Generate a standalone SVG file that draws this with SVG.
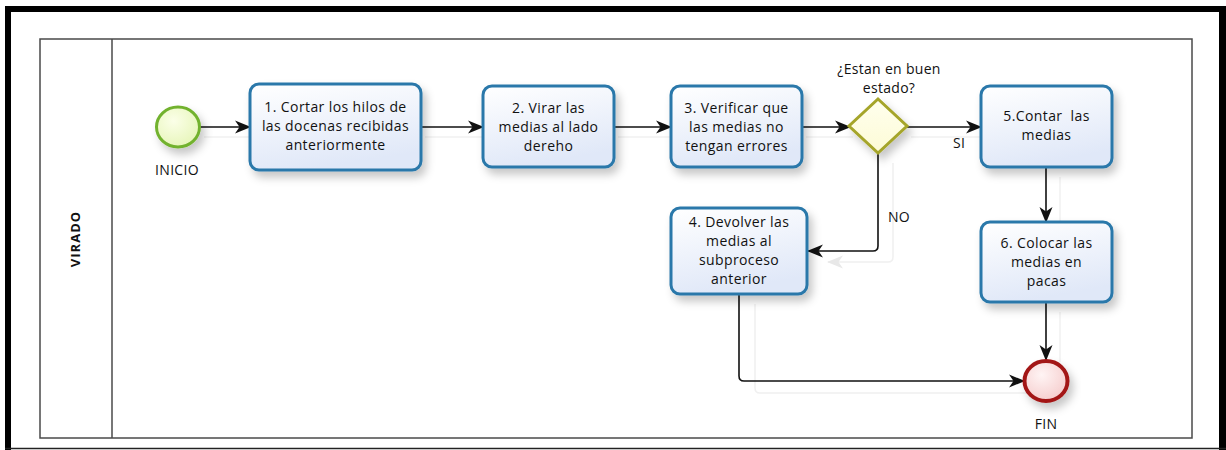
<svg xmlns="http://www.w3.org/2000/svg" width="1226" height="450" viewBox="0 0 1226 450">
  <defs>
    <style>
      .frame { fill: none; stroke: #000; }
      .pool { fill: none; stroke: #4a4a4a; stroke-width: 1.5; }
      .task { stroke: #2a78aa; stroke-width: 3; fill: url(#taskGrad); filter: url(#shadow); }
      .txt { font-family: "Open Sans", "Noto Sans", "DejaVu Sans", sans-serif; font-size: 14px; letter-spacing: 0.4px; fill: #111; text-anchor: middle; }
      .lbl { font-family: "Open Sans", "Noto Sans", "DejaVu Sans", sans-serif; font-size: 14px; letter-spacing: 0.3px; fill: #111; text-anchor: middle; }
      .lane { font-family: "Open Sans", "Noto Sans", "DejaVu Sans", sans-serif; font-size: 13px; font-weight: bold; fill: #111; text-anchor: middle; letter-spacing: 1px; }
      .flow { fill: none; stroke: #111; stroke-width: 1.6; marker-end: url(#arrow); }
      .ghost { fill: none; stroke: #f0f0f0; stroke-width: 1.5; }
    </style>
    <linearGradient id="taskGrad" x1="0" y1="0" x2="0.3" y2="1">
      <stop offset="0" stop-color="#ffffff"/>
      <stop offset="1" stop-color="#e0e8f8"/>
    </linearGradient>
    <radialGradient id="startGrad" cx="0.4" cy="0.35" r="0.7">
      <stop offset="0" stop-color="#fbffe8"/>
      <stop offset="1" stop-color="#e6f5b8"/>
    </radialGradient>
    <radialGradient id="endGrad" cx="0.4" cy="0.35" r="0.7">
      <stop offset="0" stop-color="#fff4f4"/>
      <stop offset="1" stop-color="#f5cccc"/>
    </radialGradient>
    <linearGradient id="gwGrad" x1="0" y1="0" x2="0" y2="1">
      <stop offset="0" stop-color="#ffffee"/>
      <stop offset="1" stop-color="#fdfbd6"/>
    </linearGradient>
    <filter id="shadow" x="-20%" y="-20%" width="150%" height="160%">
      <feDropShadow dx="4" dy="6" stdDeviation="4" flood-color="#000" flood-opacity="0.22"/>
    </filter>
    <marker id="arrow" markerUnits="userSpaceOnUse" markerWidth="16" markerHeight="16" viewBox="0 0 16 16" refX="15" refY="8" orient="auto">
      <path d="M0,1.5 L16,8 L0,14.5 L4.5,8 z" fill="#111"/>
    </marker>
    <marker id="ghostArrow" markerUnits="userSpaceOnUse" markerWidth="16" markerHeight="16" viewBox="0 0 16 16" refX="15" refY="8" orient="auto">
      <path d="M0,1.5 L16,8 L0,14.5 L4.5,8 z" fill="#e8e8e8"/>
    </marker>
  </defs>

  <rect x="0" y="0" width="1226" height="450" fill="#fff"/>

  <!-- outer frame -->
  <g id="frame">
    <line x1="5" y1="9" x2="1226" y2="9" stroke="#000" stroke-width="6"/>
    <line x1="8" y1="6" x2="8" y2="450" stroke="#000" stroke-width="6"/>
    <line x1="1222.5" y1="6" x2="1222.5" y2="450" stroke="#000" stroke-width="7"/>
    <line x1="5" y1="448.5" x2="1226" y2="448.5" stroke="#222" stroke-width="1.5"/>
  </g>

  <!-- pool and lane -->
  <g id="pool">
    <rect class="pool" x="40" y="39" width="1152" height="399"/>
    <line class="pool" x1="112" y1="39" x2="112" y2="438"/>
    <text class="lane" transform="translate(80,239) rotate(-90)">VIRADO</text>
  </g>

  <!-- faint connector shadows -->
  <g id="connector-shadows">
    <line class="ghost" x1="204" y1="137" x2="250" y2="137"/>
    <line class="ghost" x1="425" y1="137" x2="483" y2="137"/>
    <line class="ghost" x1="618" y1="137" x2="671" y2="137"/>
    <line class="ghost" x1="806" y1="137" x2="853" y2="137"/>
    <line class="ghost" x1="911" y1="137" x2="981" y2="137"/>
    <path class="ghost" d="M893,163 L893,257 Q893,262 888,262 L828,262" marker-end="url(#ghostArrow)"/>
    <path class="ghost" d="M755,304 L755,388 Q755,393 760,393 L1030,393"/>
    <line class="ghost" x1="1060" y1="177" x2="1060" y2="222"/>
    <line class="ghost" x1="1060" y1="312" x2="1060" y2="362"/>
  </g>

  <!-- connectors -->
  <g id="connectors">
    <line class="flow" x1="200" y1="127" x2="250" y2="127"/>
    <line class="flow" x1="421" y1="127" x2="483" y2="127"/>
    <line class="flow" x1="614" y1="127" x2="671" y2="127"/>
    <line class="flow" x1="802" y1="127" x2="850" y2="127"/>
    <line class="flow" x1="907" y1="127" x2="981" y2="127"/>
    <path class="flow" d="M878,153 L878,246 Q878,251 873,251 L808,251"/>
    <line class="flow" x1="1046" y1="167" x2="1046" y2="222"/>
    <line class="flow" x1="1046" y1="302" x2="1046" y2="360"/>
    <path class="flow" d="M739,294 L739,376 Q739,381 744,381 L1024,381"/>
    <text class="lbl" x="959" y="148">SI</text>
    <text class="lbl" x="899" y="222">NO</text>
  </g>

  <!-- nodes -->
  <g id="start">
    <ellipse cx="178" cy="127" rx="21.5" ry="20" fill="url(#startGrad)" stroke="#72b22e" stroke-width="3" filter="url(#shadow)"/>
    <text class="lbl" x="177" y="175">INICIO</text>
  </g>

  <g id="task1">
    <rect class="task" x="250" y="84" width="171" height="86" rx="9"/>
    <text class="txt" x="335.5" y="112">1. Cortar los hilos de</text>
    <text class="txt" x="335.5" y="131">las docenas recibidas</text>
    <text class="txt" x="335.5" y="150">anteriormente</text>
  </g>

  <g id="task2">
    <rect class="task" x="483" y="86" width="131" height="81" rx="9"/>
    <text class="txt" x="548.5" y="113">2. Virar las</text>
    <text class="txt" x="548.5" y="132">medias al lado</text>
    <text class="txt" x="548.5" y="151">dereho</text>
  </g>

  <g id="task3">
    <rect class="task" x="671" y="86" width="131" height="81" rx="9"/>
    <text class="txt" x="736.5" y="113">3. Verificar que</text>
    <text class="txt" x="736.5" y="132">las medias no</text>
    <text class="txt" x="736.5" y="151">tengan errores</text>
  </g>

  <g id="gateway">
    <polygon points="878,99 907,126 878,153 849,126" fill="url(#gwGrad)" stroke="#a5a52a" stroke-width="3" filter="url(#shadow)"/>
    <text class="lbl" x="889" y="74">¿Estan en buen</text>
    <text class="lbl" x="889" y="93">estado?</text>
  </g>

  <g id="task5">
    <rect class="task" x="981" y="86" width="131" height="81" rx="9"/>
    <text class="txt" x="1046.5" y="121" xml:space="preserve">5.Contar  las</text>
    <text class="txt" x="1046.5" y="140">medias</text>
  </g>

  <g id="task4">
    <rect class="task" x="671" y="208" width="136" height="86" rx="9"/>
    <text class="txt" x="739" y="227">4. Devolver las</text>
    <text class="txt" x="739" y="246">medias al</text>
    <text class="txt" x="739" y="265">subproceso</text>
    <text class="txt" x="739" y="284">anterior</text>
  </g>

  <g id="task6">
    <rect class="task" x="981" y="222" width="131" height="80" rx="9"/>
    <text class="txt" x="1046.5" y="248">6. Colocar las</text>
    <text class="txt" x="1046.5" y="267">medias en</text>
    <text class="txt" x="1046.5" y="286">pacas</text>
  </g>

  <g id="end">
    <ellipse cx="1046" cy="381" rx="21.5" ry="20" fill="url(#endGrad)" stroke="#a31818" stroke-width="4" filter="url(#shadow)"/>
    <text class="lbl" x="1046" y="429">FIN</text>
  </g>
</svg>
